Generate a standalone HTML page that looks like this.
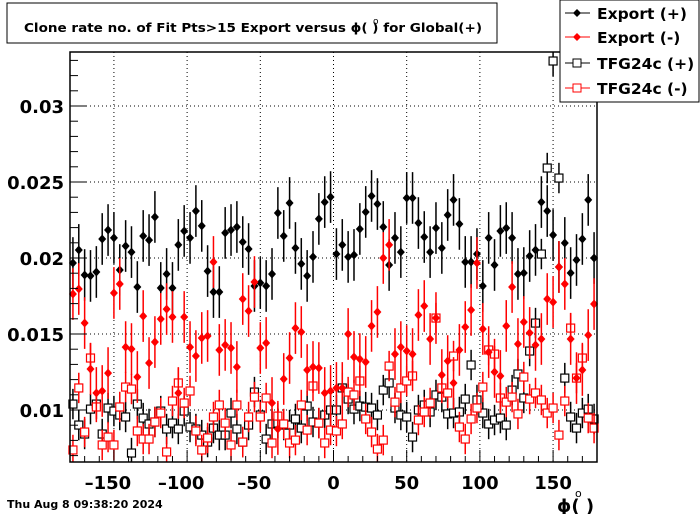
<!DOCTYPE html>
<html><head><meta charset="utf-8"><style>
html,body{margin:0;padding:0;background:#fff;}
svg{display:block;font-family:"DejaVu Sans","Liberation Sans",sans-serif;font-weight:bold;}
</style></head><body>
<svg id="chart" width="700" height="514" viewBox="0 0 700 514" xmlns="http://www.w3.org/2000/svg">
<rect x="0" y="0" width="700" height="514" fill="#fff"/>
<g id="grid"></g>
<g id="marks"></g>
<rect x="70" y="52" width="527" height="410" fill="none" stroke="#000" stroke-width="1.5"/>
<g id="axes"></g>
<g>
<rect x="7" y="3" width="490" height="40" fill="#fff" stroke="#000" stroke-width="1"/>
<text x="253" y="32" font-size="12.5" text-anchor="middle" textLength="458" lengthAdjust="spacingAndGlyphs">Clone rate no. of Fit Pts&gt;15 Export versus ϕ(  ) for Global(+)</text>
<text x="373" y="24" font-size="9" font-weight="normal">o</text>
</g>
<g>
<rect x="560" y="0" width="139" height="102" fill="#fff" stroke="#000" stroke-width="1"/>
<g>
<line x1="565" y1="13" x2="590" y2="13" stroke="#000"/><polygon points="577,9 581,13 577,17 573,13" fill="#000"/>
<text x="597" y="19" font-size="15.5">Export (+)</text></g>
<g>
<line x1="565" y1="37" x2="590" y2="37" stroke="#f00"/><polygon points="577,33 581,37 577,41 573,37" fill="#f00"/>
<text x="597" y="43" font-size="15.5">Export (-)</text></g>
<g>
<line x1="565" y1="63" x2="590" y2="63" stroke="#000"/><rect x="573" y="59" width="8" height="8" fill="#fff" stroke="#000"/>
<text x="597" y="69" font-size="15.5">TFG24c (+)</text></g>
<g>
<line x1="565" y1="88" x2="590" y2="88" stroke="#f00"/><rect x="573" y="84" width="8" height="8" fill="#fff" stroke="#f00"/>
<text x="597" y="94" font-size="15.5">TFG24c (-)</text></g>
</g>
<text x="557" y="512" font-size="18">ϕ(  )</text>
<text x="575" y="497" font-size="11" font-weight="normal">o</text>
<text x="7" y="508" font-size="11">Thu Aug  8 09:38:20 2024</text>
</svg>
<script>
const exportPlus=[0.01967,0.02053,0.01888,0.01882,0.01908,0.02125,0.02184,0.02132,0.01921,0.02079,0.02039,0.01809,0.02145,0.02118,0.02270,0.01803,0.01895,0.01803,0.02086,0.02178,0.02132,0.02309,0.02211,0.01914,0.01776,0.01776,0.02165,0.02184,0.02204,0.02105,0.02059,0.01816,0.01836,0.01816,0.01895,0.02296,0.02145,0.02362,0.02066,0.01961,0.01882,0.02007,0.02257,0.02368,0.02401,0.02026,0.02086,0.02007,0.02020,0.02191,0.02303,0.02408,0.02355,0.02204,0.01954,0.02132,0.02039,0.02395,0.02395,0.02230,0.02138,0.02039,0.02197,0.02066,0.02283,0.02382,0.02224,0.01974,0.01974,0.02026,0.01816,0.02132,0.01954,0.02178,0.02197,0.02132,0.01895,0.01901,0.02013,0.02053,0.02368,0.02309,0.02151,0.01941,0.02099,0.01901,0.01987,0.02125,0.02382,0.02000];
const exportMinus=[0.01763,0.01796,0.01572,0.01270,0.01112,0.01125,0.01243,0.01770,0.01829,0.01414,0.01401,0.01217,0.01618,0.01309,0.01447,0.01599,0.01664,0.01612,0.01112,0.01612,0.01414,0.01355,0.01474,0.01487,0.01974,0.01395,0.01428,0.01408,0.01283,0.01730,0.01651,0.01842,0.01408,0.01441,0.01046,0.00875,0.01204,0.01342,0.01539,0.01513,0.01263,0.01283,0.01276,0.01112,0.01125,0.01145,0.01145,0.01500,0.01349,0.01335,0.01316,0.01553,0.01645,0.02000,0.02086,0.01368,0.01414,0.01388,0.01368,0.01625,0.01684,0.01467,0.01605,0.01230,0.01322,0.01178,0.01395,0.01546,0.01658,0.01967,0.01533,0.01381,0.01250,0.01224,0.01553,0.01809,0.01434,0.01579,0.01507,0.01428,0.01467,0.01730,0.01710,0.01941,0.01829,0.01467,0.01210,0.01263,0.01493,0.01697];
const tfgPlus=[0.01039,0.00901,0.00842,0.01006,0.01039,0.00842,0.01013,0.00993,0.00967,0.00954,0.00717,0.01039,0.00947,0.00908,0.00921,0.00993,0.00875,0.00914,0.00875,0.00993,0.00888,0.00875,0.00835,0.00789,0.00881,0.00835,0.00835,0.00980,0.00875,0.00789,0.00901,0.01118,0.00967,0.00809,0.00908,0.00914,0.00901,0.00901,0.00941,0.00881,0.01026,0.00921,0.00914,0.00967,0.01000,0.01000,0.01145,0.01072,0.01006,0.01026,0.01019,0.01013,0.00967,0.01131,0.01178,0.01013,0.00967,0.00954,0.00822,0.01000,0.01033,0.00987,0.01099,0.01085,0.00974,0.00980,0.00987,0.01072,0.01296,0.01066,0.00980,0.00908,0.00934,0.00947,0.00901,0.01131,0.01237,0.01079,0.01388,0.01572,0.02026,0.02592,0.03296,0.02526,0.01210,0.00954,0.00881,0.00980,0.01006,0.00941];
const tfgMinus=[0.00737,0.01145,0.00855,0.01342,0.01020,0.00770,0.00822,0.00770,0.01020,0.01151,0.01138,0.00862,0.00809,0.00809,0.00921,0.00980,0.00724,0.01059,0.01178,0.01046,0.01125,0.00862,0.00737,0.00816,0.00954,0.01033,0.00914,0.00770,0.01033,0.00789,0.00954,0.01085,0.00954,0.01079,0.00783,0.00960,0.00908,0.00783,0.00802,0.01033,0.00868,0.01158,0.00914,0.00783,0.00868,0.00862,0.00908,0.01118,0.01099,0.01191,0.00941,0.00855,0.00743,0.00802,0.01289,0.01052,0.01145,0.01191,0.01224,0.00934,0.00987,0.01046,0.01605,0.01145,0.01112,0.01355,0.00888,0.00809,0.00941,0.01013,0.01151,0.01395,0.01368,0.01079,0.01052,0.01085,0.00974,0.01217,0.01072,0.01112,0.01066,0.00980,0.01013,0.00835,0.01059,0.01539,0.01210,0.01342,0.00947,0.00881];
const errExport=[0.0017];
const errTfg=[0.0010];
const xTicks=[-150,-100,-50,0,50,100,150];
const yTicks=[0.01,0.015,0.02,0.025,0.03];
const yTickLabels=["0.01","0.015","0.02","0.025","0.03"];
const phiMin=-180, phiMax=180, nBins=90;

const NS="http://www.w3.org/2000/svg";
const X0=70,X1=597,Y0=462,Y1=52;
function xs(p){return X0+(p-phiMin)/(phiMax-phiMin)*(X1-X0);}
function ys(v){return 410-(v-0.01)*15200;}
function mk(tag,attrs,parent){const e=document.createElementNS(NS,tag);for(const k in attrs)e.setAttribute(k,attrs[k]);parent.appendChild(e);return e;}
const grid=document.getElementById('grid'),marks=document.getElementById('marks'),axes=document.getElementById('axes');
xTicks.forEach(t=>{
  const l=mk('line',{x1:xs(t),x2:xs(t),y1:Y1,y2:Y0,stroke:'#000','stroke-width':1,'stroke-dasharray':'1,3'},grid);
  
  
  const tk=mk('line',{x1:xs(t),x2:xs(t),y1:Y0,y2:Y0-12,stroke:'#000'},axes);
  
  
  const tx=mk('text',{x:xs(t),y:Y0+27,'font-size':18,'text-anchor':'middle'},axes);
  tx.textContent=(t<0?'\u2013':'')+Math.abs(t);
  if(t<0)tx.setAttribute('x',xs(t)-6);
  
  
});
for(let p=-170;p<=170;p+=10){if(p%50===0)continue;
  const tk=mk('line',{x1:xs(p),x2:xs(p),y1:Y0,y2:Y0-6,stroke:'#000'},axes);
  
  }
yTicks.forEach((t,i)=>{
  const l=mk('line',{x1:X0,x2:X1,y1:ys(t),y2:ys(t),stroke:'#000','stroke-width':1,'stroke-dasharray':'1,3'},grid);
  
  
  const tk=mk('line',{x1:X0,x2:X0+17,y1:ys(t),y2:ys(t),stroke:'#000'},axes);
  
  
  const tx=mk('text',{x:X0-6,y:ys(t)+7,'font-size':18,'text-anchor':'end'},axes);
  tx.textContent=yTickLabels[i];
  
  
});
for(let v=0.007;v<=0.0335;v+=0.001){
  const y=ys(v);if(y<Y1||y>Y0)continue;
  const tk=mk('line',{x1:X0,x2:X0+8,y1:y,y2:y,stroke:'#000'},axes);
  
  
}
const bw=(phiMax-phiMin)/nBins;
function clipY(y){return Math.max(Y1,Math.min(Y0,y));}
function drawSeries(vals,err,color,shape,name){
  vals.forEach((v,i)=>{
    const cx=xs(phiMin+(i+0.5)*bw),cy=ys(v);
    const g=mk('g',{},marks);
    
    
    mk('line',{x1:cx,x2:cx,y1:clipY(ys(v+err)),y2:clipY(ys(v-err)),stroke:color,'stroke-width':1.5},g);
    if(shape==='diamond'){
      mk('polygon',{points:`${cx},${cy-4.5} ${cx+4},${cy} ${cx},${cy+4.5} ${cx-4},${cy}`,fill:color},g);
    }else{
      mk('rect',{x:cx-4,y:cy-4,width:8,height:8,fill:'#fff',stroke:color,'stroke-width':1.2},g);
    }
  });
}
drawSeries(tfgPlus,errTfg[0],'#000','square','tfg-plus');
drawSeries(tfgMinus,errTfg[0],'#f00','square','tfg-minus');
drawSeries(exportPlus,errExport[0],'#000','diamond','export-plus');
drawSeries(exportMinus,errExport[0],'#f00','diamond','export-minus');
</script>
</body></html>
